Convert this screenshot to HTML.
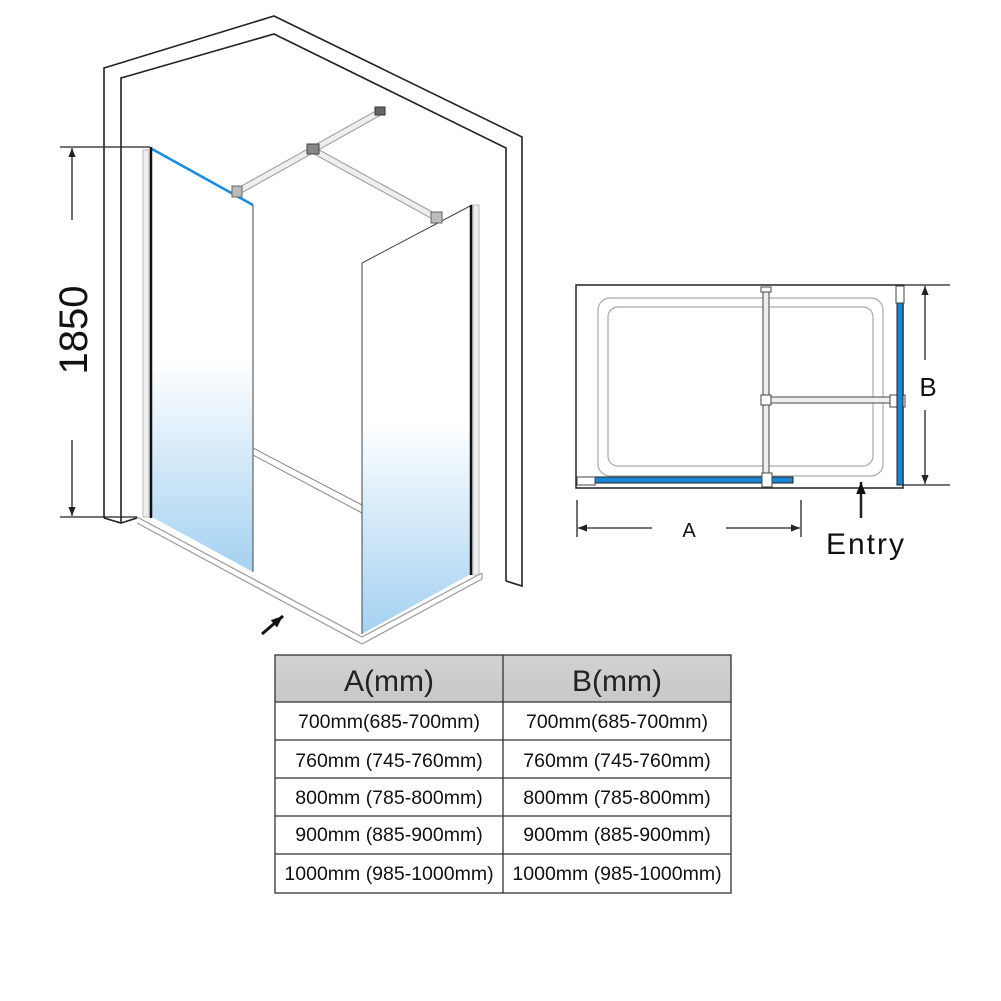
<!DOCTYPE html>
<html><head><meta charset="utf-8"><style>
html,body{margin:0;padding:0;background:#fff;}
svg{display:block;}
text{font-family:"Liberation Sans",Arial,sans-serif;}
</style></head><body>
<svg width="1001" height="1001" viewBox="0 0 1001 1001" xmlns="http://www.w3.org/2000/svg">
<defs>
<linearGradient id="gl" x1="0" y1="0" x2="0" y2="1">
<stop offset="0" stop-color="#fff"/><stop offset="0.5" stop-color="#fff"/><stop offset="1" stop-color="#a4d1f1"/>
</linearGradient>
<linearGradient id="hd" x1="0" y1="0" x2="0" y2="1">
<stop offset="0" stop-color="#d2d2d2"/><stop offset="1" stop-color="#c8c8c8"/>
</linearGradient>
<marker id="ar" viewBox="0 0 10 10" refX="10" refY="5" markerUnits="userSpaceOnUse" markerWidth="10" markerHeight="9" orient="auto-start-reverse"><path d="M0,1 L10,5 L0,9 z" fill="#222"/></marker>
<marker id="ar2" viewBox="0 0 10 10" refX="10" refY="5" markerUnits="userSpaceOnUse" markerWidth="13" markerHeight="12" orient="auto-start-reverse"><path d="M0,1 L10,5 L0,9 z" fill="#111"/></marker>
</defs>

<g fill="none" stroke="#222" stroke-width="1.6">
<polyline points="104,518 104,68 274,16 522,137 522,586 506,581"/>
<polyline points="121,523 121,78 274,34 506,148 506,581"/>
<polyline points="104,518 121,523 137,518"/>
</g>

<polygon points="152,149 253,205 253,572 152,517" fill="url(#gl)"/>
<line x1="152" y1="149" x2="253" y2="205" stroke="#1a8ce0" stroke-width="2.5"/>
<line x1="253" y1="205" x2="253" y2="572" stroke="#444" stroke-width="1"/>
<rect x="143" y="150" width="6" height="367" fill="#eee" stroke="#bbb" stroke-width="1"/>
<line x1="151" y1="147" x2="151" y2="518" stroke="#111" stroke-width="2.5"/>

<g stroke="#888" stroke-width="1" fill="none">
<line x1="253" y1="448" x2="362" y2="505"/>
<line x1="253" y1="455" x2="362" y2="513"/>
</g>

<polygon points="362,263 472,205 471,574 362,634" fill="url(#gl)"/>
<polyline points="362,634 362,263 472,205" fill="none" stroke="#444" stroke-width="1"/>
<rect x="473" y="205" width="6" height="370" fill="#eee" stroke="#bbb" stroke-width="1"/>
<line x1="471" y1="205" x2="471" y2="575" stroke="#111" stroke-width="2.5"/>

<g fill="none" stroke="#999" stroke-width="1.2">
<polyline points="137,517 362,637 482,573"/>
<polyline points="137,523 362,644 482,579"/>
<line x1="482" y1="573" x2="482" y2="579"/>
</g>

<g stroke-linecap="butt">
<line x1="237" y1="192" x2="380" y2="112" stroke="#999" stroke-width="7"/>
<line x1="237" y1="192" x2="380" y2="112" stroke="#eee" stroke-width="5"/>
<line x1="313" y1="150" x2="437" y2="218" stroke="#999" stroke-width="7"/>
<line x1="313" y1="150" x2="437" y2="218" stroke="#eee" stroke-width="5"/>
</g>
<rect x="232" y="186" width="10" height="11" fill="#bbb" stroke="#666" stroke-width="1"/>
<rect x="307" y="144" width="12" height="10" fill="#888" stroke="#444" stroke-width="1"/>
<rect x="375" y="107" width="10" height="8" fill="#666" stroke="#333" stroke-width="1"/>
<rect x="431" y="212" width="11" height="11" fill="#bbb" stroke="#666" stroke-width="1"/>

<g stroke="#222" stroke-width="1.3">
<line x1="60" y1="147" x2="150" y2="147"/>
<line x1="60" y1="517" x2="137" y2="517"/>
<line x1="72" y1="220" x2="72" y2="148" marker-end="url(#ar)"/>
<line x1="72" y1="440" x2="72" y2="516" marker-end="url(#ar)"/>
</g>
<text x="0" y="0" font-size="40" transform="translate(87,330) rotate(-90)" text-anchor="middle" fill="#111">1850</text>

<line x1="262" y1="634" x2="283" y2="616" stroke="#111" stroke-width="3" marker-end="url(#ar2)"/>

<g fill="none">
<rect x="576" y="285" width="327" height="203" stroke="#222" stroke-width="1.5"/>
<line x1="903" y1="285" x2="950" y2="285" stroke="#222" stroke-width="1.2"/>
<line x1="903" y1="485" x2="950" y2="485" stroke="#222" stroke-width="1.2"/>
<rect x="598" y="298" width="285" height="178" rx="12" stroke="#aaa" stroke-width="1.2"/>
<rect x="608" y="307" width="265" height="159" rx="10" stroke="#aaa" stroke-width="1.2"/>
</g>
<rect x="763" y="287" width="6" height="198" fill="#eee" stroke="#444" stroke-width="1"/>
<rect x="770" y="397" width="120" height="6" fill="#eee" stroke="#444" stroke-width="1"/>
<rect x="761" y="287" width="10" height="5" fill="#fff" stroke="#444" stroke-width="1"/>
<rect x="761" y="395" width="10" height="10" fill="#fff" stroke="#444" stroke-width="1"/>
<rect x="890" y="395" width="15" height="12" fill="#fff" stroke="#444" stroke-width="1"/>
<rect x="595" y="477" width="198" height="6" fill="#1a86d6" stroke="#222" stroke-width="1"/>
<rect x="577" y="477" width="18" height="8" fill="#fff" stroke="#444" stroke-width="1"/>
<rect x="762" y="473" width="10" height="14" fill="#fff" stroke="#444" stroke-width="1"/>
<rect x="897" y="303" width="6" height="182" fill="#1a86d6" stroke="#222" stroke-width="1"/>
<rect x="896" y="286" width="8" height="17" fill="#fff" stroke="#444" stroke-width="1"/>

<g stroke="#222" stroke-width="1.3">
<line x1="925" y1="360" x2="925" y2="286" marker-end="url(#ar)"/>
<line x1="925" y1="410" x2="925" y2="484" marker-end="url(#ar)"/>
<line x1="577" y1="500" x2="577" y2="537"/>
<line x1="801" y1="500" x2="801" y2="537"/>
<line x1="652" y1="528" x2="578" y2="528" marker-end="url(#ar)"/>
<line x1="726" y1="528" x2="800" y2="528" marker-end="url(#ar)"/>
<line x1="861" y1="518" x2="861" y2="482" stroke-width="2.5" marker-end="url(#ar2)"/>
</g>
<text x="928" y="396" font-size="26" text-anchor="middle" fill="#111">B</text>
<text x="689" y="537" font-size="20" text-anchor="middle" fill="#111">A</text>
<text x="866" y="554" font-size="30" text-anchor="middle" letter-spacing="2" fill="#111">Entry</text>

<rect x="275" y="655" width="456" height="47" fill="url(#hd)"/>
<g stroke="#333" stroke-width="1.3" fill="none">
<rect x="275" y="655" width="456" height="238"/>
<line x1="503" y1="655" x2="503" y2="893"/>
<line x1="275" y1="702" x2="731" y2="702"/>
<line x1="275" y1="740" x2="731" y2="740"/>
<line x1="275" y1="778" x2="731" y2="778"/>
<line x1="275" y1="816" x2="731" y2="816"/>
<line x1="275" y1="854" x2="731" y2="854"/>
</g>
<g font-size="30" text-anchor="middle" fill="#222">
<text x="389" y="691">A(mm)</text>
<text x="617" y="691">B(mm)</text>
</g>
<g font-size="19.5" text-anchor="middle" fill="#111">
<text x="389" y="728">700mm(685-700mm)</text>
<text x="617" y="728">700mm(685-700mm)</text>
<text x="389" y="767">760mm (745-760mm)</text>
<text x="617" y="767">760mm (745-760mm)</text>
<text x="389" y="804">800mm (785-800mm)</text>
<text x="617" y="804">800mm (785-800mm)</text>
<text x="389" y="841">900mm (885-900mm)</text>
<text x="617" y="841">900mm (885-900mm)</text>
<text x="389" y="880">1000mm (985-1000mm)</text>
<text x="617" y="880">1000mm (985-1000mm)</text>
</g>
</svg>
</body></html>
